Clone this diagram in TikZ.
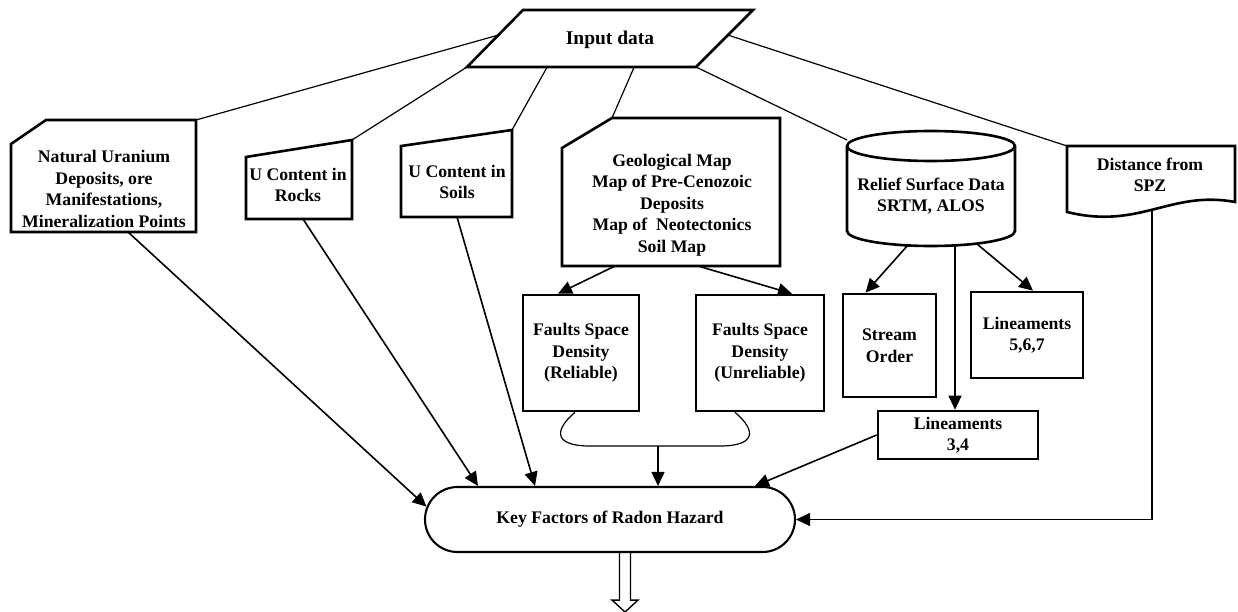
\documentclass[tikz,border=0pt]{standalone}
\usepackage{fontspec}
\setmainfont{Liberation Serif}
\usetikzlibrary{arrows.meta,shapes.misc,calc}
\newcommand\lblfont{\bfseries\fontsize{17.7}{21.5}\selectfont}
\newcommand\inpfont{\bfseries\fontsize{19.5}{23}\selectfont}
\begin{document}
\begin{tikzpicture}[x=1pt,y=-1pt,
  shp/.style={draw, line width=2.6pt, fill=white, line join=miter},
  rbox/.style={shp, rectangle, inner sep=0pt, align=center, font=\lblfont},
  lbl/.style={align=center, font=\lblfont, inner sep=0pt},
  conn/.style={line width=1.6pt},
  thinc/.style={line width=1.2pt},
  arr/.style={conn, -{Triangle[length=14pt,width=13pt]}},
]
\useasboundingbox (0,0) rectangle (1238,612);
\fill[white] (0,0) rectangle (1238,612);

% ---------- coordinates of custom shapes
\coordinate (inTL) at (523,10);
\coordinate (inTR) at (753,10);
\coordinate (inBR) at (696,67);
\coordinate (inBL) at (467,67);
\coordinate (inL) at ($(inBL)!0.56!(inTL)$);
\coordinate (inR) at ($(inBR)!0.56!(inTR)$);
\coordinate (natTR) at (196,120);
\coordinate (natB) at (128,232);
\coordinate (rocTR) at (352,140);
\coordinate (rocB) at (303,219);
\coordinate (soiTR) at (512,130);
\coordinate (soiB) at (457,217);
\coordinate (geoTL) at (612,118);
\coordinate (geoB1) at (615,266);
\coordinate (geoB2) at (698,266);
\coordinate (cylL) at (847,140);
\coordinate (cylB1) at (908,245);
\coordinate (cylB2) at (955,246);
\coordinate (cylB3) at (977,244);
\coordinate (disTL) at (1067,146);
\coordinate (disB) at (1152,205);

% ---------- rectangular boxes and terminal
\node[rbox, minimum width=116pt, minimum height=116pt] (fr) at (581,353) {Faults Space\\Density\\(Reliable)};
\node[rbox, minimum width=128pt, minimum height=116pt] (fu) at (760,353) {Faults Space\\Density\\(Unreliable)};
\node[rbox, minimum width=93pt, minimum height=103pt] (so) at (889.5,345.5) {Stream\\Order};
\node[rbox, minimum width=112pt, minimum height=86pt] (l567) at (1027,335) {Lineaments\\5,6,7};
\node[rbox, minimum width=160pt, minimum height=48pt] (l34) at (958,435) {Lineaments\\3,4};
\node[rbox, rounded rectangle, line width=2.1pt, minimum width=370pt, minimum height=65pt] (key) at (610,519.5) {Key Factors of Radon Hazard};

% ---------- connectors from input data
\draw[thinc] (inL) -- (natTR);
\draw[thinc] (inBL) -- (rocTR);
\draw[thinc] ($(inBL)!0.35!(inBR)$) -- (soiTR);
\draw[thinc] ($(inBL)!0.73!(inBR)$) -- (geoTL);
\draw[thinc] (inBR) -- (cylL);
\draw[thinc] (inR) -- (disTL);

% ---------- arrows to key factors
\draw[arr] (natB) -- (key.176);
\draw[arr] (rocB) -- ([xshift=-132pt]key.north);
\draw[arr] (soiB) -- ([xshift=-75pt]key.north);
\draw[arr] (geoB1) -- ([xshift=-23pt]fr.north);
\draw[arr] (geoB2) -- ([xshift=32pt]fu.north);
\draw[arr] (cylB1) -- ([xshift=-24pt]so.north);
\draw[arr] (cylB3) -- ([xshift=6pt]l567.north);
\draw[arr, thinc] (cylB2) -- (cylB2 |- l34.north);
\draw[arr] (l34.west) -- ([xshift=145pt]key.north);
\draw[arr, thinc] (disB) -- (disB |- key.east) -- (key.east);

% brace joining the two fault boxes
\draw[thinc] ([xshift=-6pt]fr.south) .. controls (552,432) and (556,446) .. (590,446)
  coordinate (brL) -- (720,446) .. controls (754,446) and (758,432) .. ([xshift=-25pt]fu.south);
\coordinate (brM) at (658,446);
\draw[arr] (brM) -- ([xshift=48pt]key.north);

% output open arrow
\coordinate (dA) at ([xshift=15pt]key.south);
\draw[line width=1.4pt, line join=miter] (dA) ++(-5.5,0) -- ++(0,47) -- ++(-7.5,0) -- ++(13,12) -- ++(13,-12) -- ++(-7.5,0) -- ++(0,-47);

% ---------- custom shapes
\draw[shp] (inTL) -- (inTR) -- (inBR) -- (inBL) -- cycle;
\node[inner sep=0pt, font=\inpfont] (inp) at (610,40) {Input data};

\draw[shp] (11,144) -- (46,120) -- (natTR) -- (196,232) -- (11,232) -- cycle;
\node[lbl] (nat) at (104,189) {Natural Uranium\\Deposits, ore\\Manifestations,\\Mineralization Points};

\draw[shp] (246,157) -- (rocTR) -- (352,219) -- (246,219) -- cycle;
\node[lbl] (roc) at (298,185) {U Content in\\Rocks};

\draw[shp] (401,146) -- (soiTR) -- (512,217) -- (401,217) -- cycle;
\node[lbl] (soi) at (457,182) {U Content in\\Soils};

\draw[shp] (562,148) -- (geoTL) -- (780,118) -- (780,266) -- (562,266) -- cycle;
\node[lbl] (geo) at (672,205) {Geological Map\\Map of Pre-Cenozoic\\Deposits\\Map of~ Neotectonics\\Soil Map};

\draw[shp] (847,146) -- (847,231) arc[start angle=180,end angle=360,x radius=84pt,y radius=15pt]
  -- (1015,146) arc[start angle=0,end angle=180,x radius=84pt,y radius=15pt] -- cycle;
\draw[line width=2.6pt] (847,146) arc[start angle=180,end angle=360,x radius=84pt,y radius=15pt];
\node[lbl] (cyl) at (931,196) {Relief Surface Data\\SRTM, ALOS};

\draw[shp] (disTL) -- (1235,146) -- (1235,202) .. controls (1170,190) and (1140,230) .. (1067,212) -- cycle;
\node[lbl] (dis) at (1150,175) {Distance from\\SPZ};
\end{tikzpicture}
\end{document}
